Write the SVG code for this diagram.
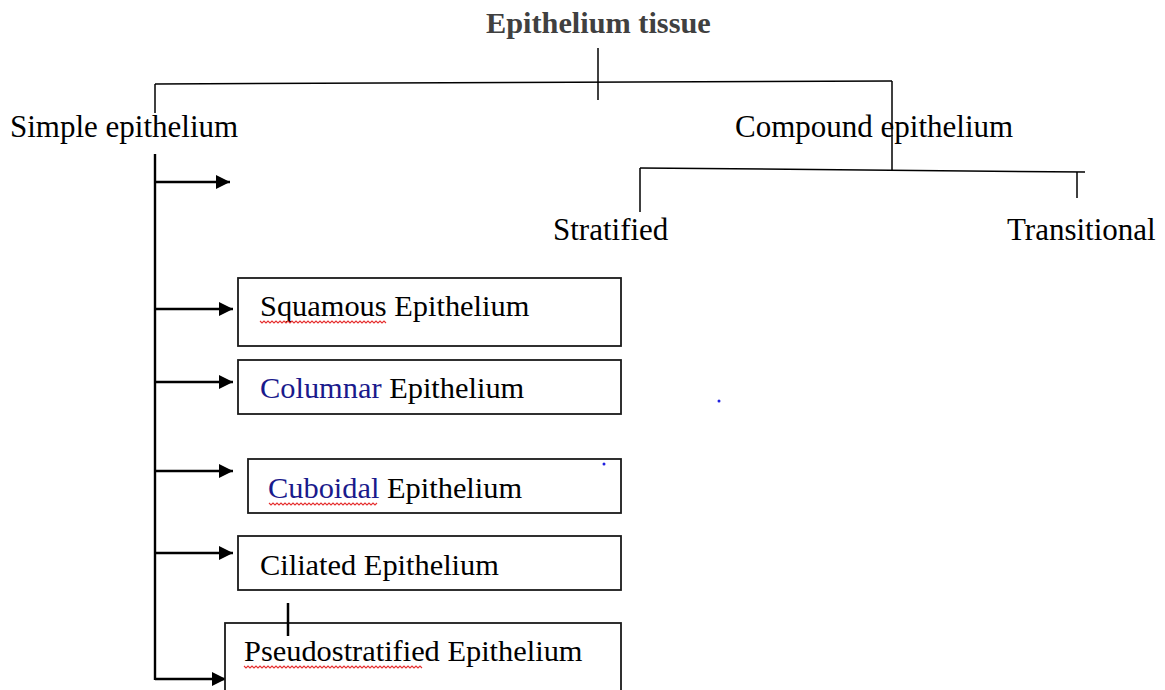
<svg xmlns="http://www.w3.org/2000/svg" width="1165" height="690" viewBox="0 0 1165 690">
<style>
.t{font-family:"Liberation Serif","Times New Roman",serif;font-size:30.4px;fill:#000}
.h{font-size:31px}
.b{font-weight:bold;fill:#404040;font-size:30.3px}
.blue{fill:#1a1a8c}
.ln{stroke:#000;stroke-width:1.5;fill:none}
.ar{stroke:#000;stroke-width:2.4;fill:none}
.box{stroke:#1a1a1a;stroke-width:1.8;fill:#fff}
.sq{stroke:#e53030;stroke-width:1.1;fill:none}
</style>
<defs>
<marker id="ah" markerWidth="14" markerHeight="14" refX="14" refY="7" orient="auto" markerUnits="userSpaceOnUse">
<path d="M0,0 L14,7 L0,14 Z" fill="#000"/>
</marker>
</defs>
<g id="connectors">
<line class="ln" x1="598" y1="48" x2="598" y2="100"/>
<line class="ln" x1="155" y1="84" x2="892" y2="81"/>
<line class="ln" x1="155" y1="84" x2="155" y2="113"/>
<line class="ln" x1="892" y1="81" x2="892" y2="170"/>
<line class="ln" x1="640" y1="168" x2="1085" y2="172"/>
<line class="ln" x1="640" y1="168" x2="640" y2="212"/>
<line class="ln" x1="1077" y1="172" x2="1077" y2="198"/>
<line class="ar" x1="155" y1="154" x2="155" y2="680" stroke-width="1.8"/>
<line class="ar" x1="155" y1="182" x2="230" y2="182" marker-end="url(#ah)"/>
<line class="ar" x1="155" y1="309" x2="233" y2="309" marker-end="url(#ah)"/>
<line class="ar" x1="155" y1="382" x2="233" y2="382" marker-end="url(#ah)"/>
<line class="ar" x1="155" y1="471" x2="233" y2="471" marker-end="url(#ah)"/>
<line class="ar" x1="155" y1="553" x2="233" y2="553" marker-end="url(#ah)"/>
<line class="ar" x1="155" y1="679" x2="226" y2="679" marker-end="url(#ah)"/>
</g>
<g id="title"><text class="t b" x="486" y="33">Epithelium  tissue</text></g>
<g id="simple"><text class="t h" x="10" y="137">Simple epithelium</text></g>
<g id="compound"><text class="t h" x="735" y="137">Compound epithelium</text></g>
<g id="stratified"><text class="t h" x="553" y="240">Stratified</text></g>
<g id="transitional"><text class="t h" x="1007" y="240">Transitional</text></g>
<g id="squamous">
<rect class="box" x="238" y="278" width="383" height="68"/>
<text class="t" x="260" y="316">Squamous Epithelium</text>
<path class="sq" d="M260,321 l2,2 l2,-2 l2,2 l2,-2 l2,2 l2,-2 l2,2 l2,-2 l2,2 l2,-2 l2,2 l2,-2 l2,2 l2,-2 l2,2 l2,-2 l2,2 l2,-2 l2,2 l2,-2 l2,2 l2,-2 l2,2 l2,-2 l2,2 l2,-2 l2,2 l2,-2 l2,2 l2,-2 l2,2 l2,-2 l2,2 l2,-2 l2,2 l2,-2 l2,2 l2,-2 l2,2 l2,-2 l2,2 l2,-2 l2,2 l2,-2 l2,2 l2,-2 l2,2 l2,-2 l2,2 l2,-2 l2,2 l2,-2 l2,2 l2,-2 l2,2 l2,-2 l2,2 l2,-2 l2,2 l2,-2 l2,2 l2,-2 l2,2"/>
</g>
<g id="columnar">
<rect class="box" x="238" y="360" width="383" height="54"/>
<text class="t" x="260" y="398"><tspan class="blue">Columnar</tspan> Epithelium</text>
</g>
<g id="cuboidal">
<rect class="box" x="248" y="459" width="373" height="54"/>
<text class="t" x="268" y="498"><tspan class="blue">Cuboidal</tspan> Epithelium</text>
<path class="sq" d="M269,503 l2,2 l2,-2 l2,2 l2,-2 l2,2 l2,-2 l2,2 l2,-2 l2,2 l2,-2 l2,2 l2,-2 l2,2 l2,-2 l2,2 l2,-2 l2,2 l2,-2 l2,2 l2,-2 l2,2 l2,-2 l2,2 l2,-2 l2,2 l2,-2 l2,2 l2,-2 l2,2 l2,-2 l2,2 l2,-2 l2,2 l2,-2 l2,2 l2,-2 l2,2 l2,-2 l2,2 l2,-2 l2,2 l2,-2 l2,2 l2,-2 l2,2 l2,-2 l2,2 l2,-2 l2,2 l2,-2 l2,2 l2,-2 l2,2 l2,-2"/>
</g>
<g id="ciliated">
<rect class="box" x="238" y="536" width="383" height="54"/>
<text class="t" x="260" y="575">Ciliated Epithelium</text>
</g>
<g id="pseudostratified">
<rect class="box" x="225" y="623" width="396" height="80"/>
<text class="t" x="244" y="661">Pseudostratified Epithelium</text>
<path class="sq" d="M244,666 l2,2 l2,-2 l2,2 l2,-2 l2,2 l2,-2 l2,2 l2,-2 l2,2 l2,-2 l2,2 l2,-2 l2,2 l2,-2 l2,2 l2,-2 l2,2 l2,-2 l2,2 l2,-2 l2,2 l2,-2 l2,2 l2,-2 l2,2 l2,-2 l2,2 l2,-2 l2,2 l2,-2 l2,2 l2,-2 l2,2 l2,-2 l2,2 l2,-2 l2,2 l2,-2 l2,2 l2,-2 l2,2 l2,-2 l2,2 l2,-2 l2,2 l2,-2 l2,2 l2,-2 l2,2 l2,-2 l2,2 l2,-2 l2,2 l2,-2 l2,2 l2,-2 l2,2 l2,-2 l2,2 l2,-2 l2,2 l2,-2 l2,2 l2,-2 l2,2 l2,-2 l2,2 l2,-2 l2,2 l2,-2 l2,2 l2,-2 l2,2 l2,-2 l2,2 l2,-2 l2,2 l2,-2 l2,2 l2,-2 l2,2 l2,-2 l2,2 l2,-2 l2,2 l2,-2 l2,2 l2,-2 l2,2"/>
<line x1="288" y1="603" x2="288" y2="636" stroke="#000" stroke-width="2.5"/>
</g>
<g id="dots" fill="#2020e0">
<circle cx="719" cy="401" r="1.5"/>
<circle cx="604" cy="464" r="1.5"/>
</g>
</svg>
